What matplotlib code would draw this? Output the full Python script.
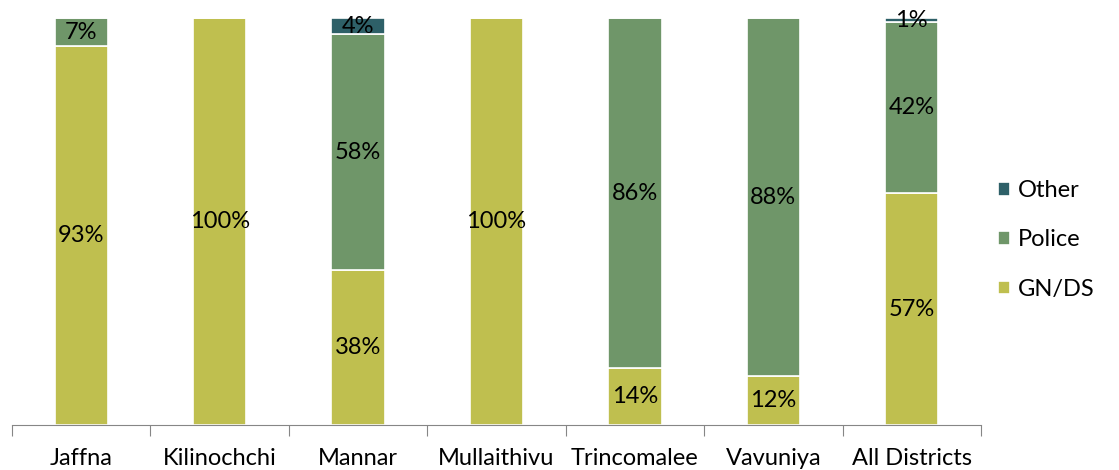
import matplotlib.pyplot as plt
import numpy as np

districts = ["Jaffna", "Kilinochchi", "Mannar", "Mullaithivu", "Trincomalee", "Vavuniya", "All Districts"]
gnds = [93, 100, 38, 100, 14, 12, 57]
police = [7, 0, 58, 0, 86, 88, 42]
other = [0, 0, 4, 0, 0, 0, 1]

plt.rcParams['font.family'] = ['Lato', 'DejaVu Sans']

fig = plt.figure(figsize=(11.19, 4.70), dpi=100)
ax = fig.add_axes([12 / 1119, 1 - 425 / 470, (981 - 12) / 1119, (425 - 18) / 470])

x = np.arange(len(districts))
w = 0.385
series = [("GN/DS", gnds, "#BFBF4F"), ("Police", police, "#6F9669"), ("Other", other, "#2E6068")]
bottom = np.zeros(len(districts))
handles = []
for name, vals, col in series:
    vals = np.array(vals, dtype=float)
    bars = ax.bar(x, vals, w, bottom=bottom, color=col, edgecolor="white", linewidth=1.2, label=name)
    handles.append(bars)
    for xi, b, v in zip(x, bottom, vals):
        if v > 0:
            ax.text(xi, b + v / 2, f"{int(v)}%", ha="center", va="center", fontsize=17, color="black")
    bottom += vals

ax.set_xlim(-0.5, len(districts) - 0.5)
ax.set_ylim(0, 100)
for s in ["top", "right", "left"]:
    ax.spines[s].set_visible(False)
ax.spines["bottom"].set_color("#868686")
ax.set_yticks([])
ax.set_xticks(np.arange(-0.5, len(districts), 1.0))
ax.set_xticklabels([])
ax.tick_params(axis="x", length=8, color="#868686", direction="out")
for xi, d in zip(x, districts):
    ax.text(xi, -0.082, d, transform=ax.get_xaxis_transform(), ha="center", va="center", fontsize=17)

leg = fig.legend(handles[::-1], [h.get_label() for h in handles[::-1]], loc="center left",
                 bbox_to_anchor=(998 / 1119, 1 - 240 / 470), frameon=False, fontsize=17,
                 borderaxespad=0, borderpad=0,
                 handlelength=0.5, handleheight=0.5, handletextpad=0.35, labelspacing=1.2)

fig.savefig("out.png", dpi=100)
